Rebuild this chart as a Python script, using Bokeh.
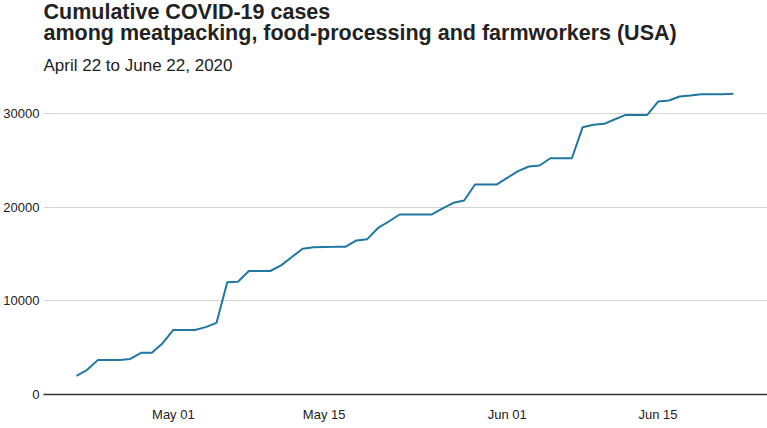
from datetime import datetime, timedelta
import pandas as pd
from bokeh.plotting import figure
from bokeh.models import (Range1d, FixedTicker, DatetimeTickFormatter, Title,
                          ColumnDataSource, NumeralTickFormatter)
from bokeh.embed import file_html
from bokeh.resources import INLINE

# ---- data ----
start_date = "2020-04-22"
cases = [2000, 2640, 3700, 3700, 3700, 3800, 4450, 4450, 5480, 6900,
         6900, 6900, 7200, 7650, 12000, 12050, 13200, 13200, 13200, 13800,
         14700, 15570, 15740, 15770, 15780, 15800, 16460, 16600, 17800, 18490,
         19240, 19240, 19240, 19240, 19900, 20490, 20730, 22440, 22440, 22440,
         23160, 23870, 24370, 24470, 25250, 25250, 25250, 28570, 28820, 28930,
         29420, 29880, 29880, 29880, 31310, 31420, 31850, 31950, 32090, 32090,
         32090, 32130]
dates = pd.date_range(start_date, periods=len(cases), freq="D")
x_tick_dates = ["2020-05-01", "2020-05-15", "2020-06-01", "2020-06-15"]
y_ticks = [0, 10000, 20000, 30000]

title_line1 = "Cumulative COVID-19 cases"
title_line2 = "among meatpacking, food-processing and farmworkers (USA)"
subtitle = "April 22 to June 22, 2020"

FONT = "Liberation Sans"
LINE_COLOR = "#1f77a2"

src = ColumnDataSource(dict(date=dates, cases=cases))

t0 = datetime(2020, 4, 22)
x_range = Range1d(t0 - timedelta(days=3.06), t0 + timedelta(days=64.16))
y_range = Range1d(0, 33024)

p = figure(title=None, x_axis_type="datetime", x_range=x_range, y_range=y_range,
           frame_width=724, frame_height=309,
           min_border_left=0, min_border_right=0, min_border_bottom=0,
           min_border_top=0,
           output_backend="svg", toolbar_location=None)

p.line("date", "cases", source=src, line_color=LINE_COLOR, line_width=2)

# titles (added inner-most first)
p.add_layout(Title(text=subtitle, text_font=FONT, text_font_size="17px",
                   text_font_style="normal", text_color="#222222",
                   standoff=21), "above")
p.add_layout(Title(text=title_line2, text_font=FONT, text_font_size="21.5px",
                   text_font_style="bold", text_color="#222222",
                   standoff=-3), "above")
p.add_layout(Title(text=title_line1, text_font=FONT, text_font_size="21.5px",
                   text_font_style="bold", text_color="#222222",
                   standoff=-6), "above")

# axes
p.xaxis.ticker = FixedTicker(ticks=[pd.Timestamp(d).value / 1e6 for d in x_tick_dates])
p.xaxis.formatter = DatetimeTickFormatter(days="%b %d", months="%b %d",
                                          hours="%b %d", years="%b %d")
p.xaxis.axis_line_color = "#333333"
p.xaxis.axis_line_width = 1.6
p.xaxis.major_tick_line_color = None
p.xaxis.minor_tick_line_color = None
p.xaxis.major_tick_out = 0
p.xaxis.major_tick_in = 0
p.xaxis.major_label_standoff = 12
p.xaxis.major_label_text_font = FONT
p.xaxis.major_label_text_font_size = "13px"
p.xaxis.major_label_text_color = "#222222"

p.yaxis.ticker = FixedTicker(ticks=y_ticks)
p.yaxis.formatter = NumeralTickFormatter(format="0")
p.yaxis.axis_line_color = None
p.yaxis.major_tick_line_color = None
p.yaxis.minor_tick_line_color = None
p.yaxis.major_tick_out = 0
p.yaxis.major_tick_in = 0
p.yaxis.major_label_standoff = 4
p.yaxis.major_label_text_font = FONT
p.yaxis.major_label_text_font_size = "13px"
p.yaxis.major_label_text_color = "#222222"

p.xgrid.grid_line_color = None
p.ygrid.grid_line_color = "#d3d3d3"
p.ygrid.grid_line_width = 1
p.outline_line_color = None
p.background_fill_color = "white"
p.border_fill_color = "white"

open("out.html", "w").write(file_html(p, INLINE))
